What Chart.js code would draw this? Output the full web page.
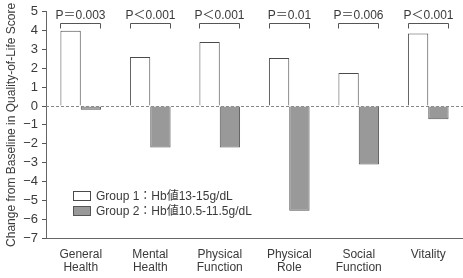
<!DOCTYPE html>
<html>
<head>
<meta charset="utf-8">
<script src="https://cdn.jsdelivr.net/npm/chart.js@4.4.1/dist/chart.umd.min.js"></script>
<style>
html,body{margin:0;padding:0;background:#fff;}
#wrap{width:463px;height:278px;position:relative;}
</style>
</head>
<body>
<div id="wrap"><canvas id="c" width="463" height="278"></canvas></div>
<script>
const categories = [["General","Health"],["Mental","Health"],["Physical","Function"],["Physical","Role"],["Social","Function"],["Vitality"]];
const group1Values = [4.0, 2.6, 3.4, 2.55, 1.75, 3.85];
const group2Values = [-0.2, -2.2, -2.2, -5.55, -3.1, -0.7];
const pValueLabels = ["P＝0.003","P＜0.001","P＜0.001","P＝0.01","P＝0.006","P＜0.001"];
const seriesLabels = ["Group 1：Hb値13-15g/dL","Group 2：Hb値10.5-11.5g/dL"];
const yTicks = [5,4,3,2,1,0,-1,-2,-3,-4,-5,-6,-7];
const yTitle = "Change from Baseline in Quality-of-Life Score";

const FONT = '"Liberation Sans", "Noto Sans CJK JP", sans-serif';
const TXT = '#3a3a3a';

const annotatePlugin = {
  id: 'annot',
  beforeDatasetsDraw(chart) {
    const {ctx, chartArea, scales: {y}} = chart;
    const y0 = y.getPixelForValue(0);
    ctx.save();
    ctx.strokeStyle = '#888';
    ctx.lineWidth = 1;
    ctx.setLineDash([3, 2]);
    ctx.beginPath();
    ctx.moveTo(chartArea.left, Math.round(y0) + 0.5);
    ctx.lineTo(chartArea.right, Math.round(y0) + 0.5);
    ctx.stroke();
    ctx.restore();
  },
  afterDatasetsDraw(chart) {
    const {ctx} = chart;
    const m1 = chart.getDatasetMeta(0), m2 = chart.getDatasetMeta(1);
    ctx.save();
    ctx.strokeStyle = '#555';
    ctx.lineWidth = 1;
    ctx.fillStyle = TXT;
    ctx.font = '12px ' + FONT;
    ctx.textAlign = 'center';
    ctx.textBaseline = 'middle';
    const yTop = chart.scales.y.top;
    pValueLabels.forEach((lbl, i) => {
      const b1 = m1.data[i], b2 = m2.data[i];
      const l = Math.round(b1.x - b1.width / 2) + 0.5;
      const r = Math.round(b2.x + b2.width / 2) - 0.5;
      const by = Math.round(yTop + 11) + 0.5;
      ctx.beginPath();
      ctx.moveTo(l, by + 5);
      ctx.lineTo(l, by);
      ctx.lineTo(r, by);
      ctx.lineTo(r, by + 5);
      ctx.stroke();
      ctx.fillText(lbl, (l + r) / 2, yTop + 3.5);
    });
    // legend
    const lx = chart.chartArea.left + 27;
    const ly = chart.scales.y.getPixelForValue(-4.77);
    chart.data.datasets.forEach((ds, i) => {
      const yy = ly + i * 15;
      ctx.fillStyle = ds.backgroundColor;
      ctx.strokeStyle = ds.borderColor;
      ctx.fillRect(lx, yy - 4.5, 18, 9);
      ctx.strokeRect(lx + 0.5, Math.round(yy - 4.5) + 0.5, 17, 9);
      ctx.fillStyle = TXT;
      ctx.textAlign = 'left';
      ctx.fillText(ds.label, lx + 23, yy + 0.5);
    });
    ctx.restore();
  }
};

new Chart(document.getElementById('c'), {
  type: 'bar',
  data: {
    labels: categories,
    datasets: [
      {label: seriesLabels[0], data: group1Values, backgroundColor: '#ffffff', borderColor: '#4a4a4a', borderWidth: 1},
      {label: seriesLabels[1], data: group2Values, backgroundColor: '#999999', borderColor: '#555555', borderWidth: 1}
    ]
  },
  options: {
    responsive: false,
    animation: false,
    devicePixelRatio: 1,
    layout: {padding: {top: 9, right: 0, left: 4, bottom: 0}},
    plugins: {legend: {display: false}, tooltip: {enabled: false}},
    datasets: {bar: {categoryPercentage: 0.585, barPercentage: 1.0}},
    scales: {
      x: {
        grid: {display: false, drawTicks: false},
        border: {display: true, color: '#666'},
        ticks: {color: TXT, font: {family: FONT, size: 12, lineHeight: 1.1}, padding: 10, maxRotation: 0, autoSkip: false},
        afterFit(s) { s.height = 40; }
      },
      y: {
        min: -7, max: 5,
        afterBuildTicks(s) { s.ticks = yTicks.map(v => ({value: v})); },
        grid: {drawOnChartArea: false, drawTicks: true, tickLength: 4, color: '#555'},
        border: {display: true, color: '#666'},
        ticks: {color: TXT, font: {family: FONT, size: 13}, padding: 4,
          callback: v => String(v).replace('-', '−')},
        title: {display: true, text: yTitle, color: TXT, font: {family: FONT, size: 12}, padding: {top: 0, bottom: 2}},
        afterFit(s) { s.width = 42; }
      }
    }
  },
  plugins: [annotatePlugin]
});
</script>
</body>
</html>
